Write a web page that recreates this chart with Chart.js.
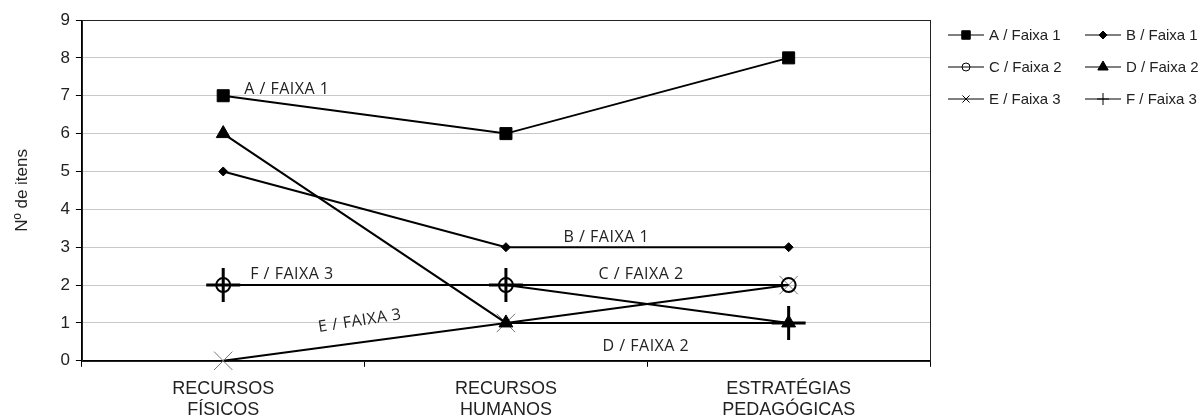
<!DOCTYPE html>
<html>
<head>
<meta charset="utf-8">
<script src="https://cdn.jsdelivr.net/npm/chart.js@4/dist/chart.umd.min.js"></script>
<style>
  html, body { margin: 0; padding: 0; background: #fff; }
  #wrap { width: 1201px; height: 416px; }
</style>
</head>
<body>
<div id="wrap"><canvas id="myChart" width="1201" height="416"></canvas></div>
<script>
// data
const categories = [["RECURSOS", "FÍSICOS"], ["RECURSOS", "HUMANOS"], ["ESTRATÉGIAS", "PEDAGÓGICAS"]];
const seriesNames = ["A / Faixa 1", "B / Faixa 1", "C / Faixa 2", "D / Faixa 2", "E / Faixa 3", "F / Faixa 3"];
const seriesA = [7, 6, 8];
const seriesB = [5, 3, 3];
const seriesC = [2, 2, 2];
const seriesD = [6, 1, 1];
const seriesE = [0, 1, 2];
const seriesF = [2, 2, 1];
const yTicks = [0, 1, 2, 3, 4, 5, 6, 7, 8, 9];

// labels written inside the plot (category index, value)
const notes = [
  { text: "A / FAIXA 1", cat: 0.225, val: 7.16, angle: 0 },
  { text: "F / FAIXA 3", cat: 0.243, val: 2.29, angle: 0 },
  { text: "E / FAIXA 3", cat: 0.483, val: 1.05, angle: -9 },
  { text: "B / FAIXA 1", cat: 1.355, val: 3.26, angle: 0 },
  { text: "C / FAIXA 2", cat: 1.478, val: 2.29, angle: 0 },
  { text: "D / FAIXA 2", cat: 1.495, val: 0.39, angle: 0 },
];

// marker size used in the side legend
const legendRadius = [6, 4, 4, 6, 5, 6];

function makeSet(label, data, style, radius, fill, border, bw) {
  return {
    label: label,
    data: data,
    borderColor: "#000",
    borderWidth: 2,
    pointStyle: style,
    pointRadius: radius,
    pointBackgroundColor: fill,
    pointBorderColor: border,
    pointBorderWidth: bw,
    tension: 0,
    fill: false,
    clip: false,
  };
}

const plotFrame = {
  id: "plotFrame",
  beforeDatasetsDraw(chart) {
    const a = chart.chartArea;
    const ctx = chart.ctx;
    ctx.save();
    ctx.strokeStyle = "#222";
    ctx.lineWidth = 1;
    ctx.strokeRect(Math.round(a.left) + 0.5, Math.round(a.top) + 0.5, Math.round(a.right - a.left), Math.round(a.bottom - a.top));
    ctx.restore();
  },
};

const noteLabels = {
  id: "noteLabels",
  afterDatasetsDraw(chart) {
    const ctx = chart.ctx;
    const xs = chart.scales.x, ys = chart.scales.y;
    const step = xs.getPixelForValue(1) - xs.getPixelForValue(0);
    ctx.save();
    ctx.font = "16px 'Open Sans'";
    ctx.letterSpacing = "0.5px";
    ctx.fillStyle = "#222";
    ctx.textAlign = "center";
    ctx.textBaseline = "middle";
    notes.forEach((n) => {
      const x = xs.getPixelForValue(0) + n.cat * step;
      const y = ys.getPixelForValue(n.val);
      ctx.save();
      ctx.translate(x, y);
      ctx.rotate((n.angle * Math.PI) / 180);
      ctx.fillText(n.text, 0, 0);
      ctx.restore();
    });
    ctx.restore();
  },
};

const sideLegend = {
  id: "sideLegend",
  afterDraw(chart) {
    const ctx = chart.ctx;
    const a = chart.chartArea;
    chart.data.datasets.forEach((ds, i) => {
      const col = i % 2, row = Math.floor(i / 2);
      const x0 = a.right + 18 + col * 137;
      const y = a.top + 15 + row * 32;
      ctx.save();
      ctx.strokeStyle = "#000";
      ctx.lineWidth = 1;
      ctx.beginPath();
      ctx.moveTo(x0, y);
      ctx.lineTo(x0 + 36, y);
      ctx.stroke();
      ctx.fillStyle = ds.pointBackgroundColor;
      ctx.strokeStyle = "#000";
      Chart.helpers.drawPoint(ctx, { pointStyle: ds.pointStyle, radius: legendRadius[i], borderWidth: 1, rotation: 0 }, x0 + 18, y);
      ctx.fillStyle = "#222";
      ctx.font = "15px 'Liberation Sans'";
      ctx.textBaseline = "middle";
      ctx.textAlign = "left";
      ctx.fillText(ds.label, x0 + 41, y + 1);
      ctx.restore();
    });
  },
};

const ctx = document.getElementById("myChart").getContext("2d");

const myChart = new Chart(ctx, {
  type: "line",
  data: {
    labels: categories,
    datasets: [
      makeSet(seriesNames[0], seriesA, "rect", 8.5, "#000", "#000", 1),
      makeSet(seriesNames[1], seriesB, "rectRot", 4.5, "#000", "#000", 1),
      makeSet(seriesNames[2], seriesC, "circle", 7, "rgba(255,255,255,0)", "#000", 2),
      makeSet(seriesNames[3], seriesD, "triangle", 8, "#000", "#000", 1),
      makeSet(seriesNames[4], seriesE, "crossRot", 13, "#777", "#777", 1),
      makeSet(seriesNames[5], seriesF, "cross", 17, "#000", "#000", 3),
    ],
  },
  options: {
    responsive: false,
    animation: false,
    events: [],
    layout: { padding: { left: 12, right: 271, top: 10, bottom: -16 } },
    plugins: {
      legend: { display: false },
      tooltip: { enabled: false },
    },
    scales: {
      x: {
        offset: true,
        grid: { offset: true, drawOnChartArea: false, tickLength: 6, tickColor: "#000" },
        border: { color: "#000", width: 1 },
        ticks: { color: "#222", font: { family: "'Liberation Sans'", size: 18 }, padding: 11, maxRotation: 0 },
      },
      y: {
        min: 0,
        max: 9,
        afterBuildTicks: (axis) => { axis.ticks = yTicks.map((v) => ({ value: v })); },
        grid: { color: "#c8c8c8", tickLength: 6, tickColor: "#000" },
        border: { color: "#000", width: 1 },
        ticks: { color: "#222", font: { family: "'Liberation Sans'", size: 17 }, padding: 6 },
        title: { display: true, text: "Nº de itens", color: "#222", font: { family: "'Liberation Sans'", size: 17 }, padding: { top: 0, bottom: 22 } },
      },
    },
  },
  plugins: [plotFrame, noteLabels, sideLegend],
});
</script>
</body>
</html>
